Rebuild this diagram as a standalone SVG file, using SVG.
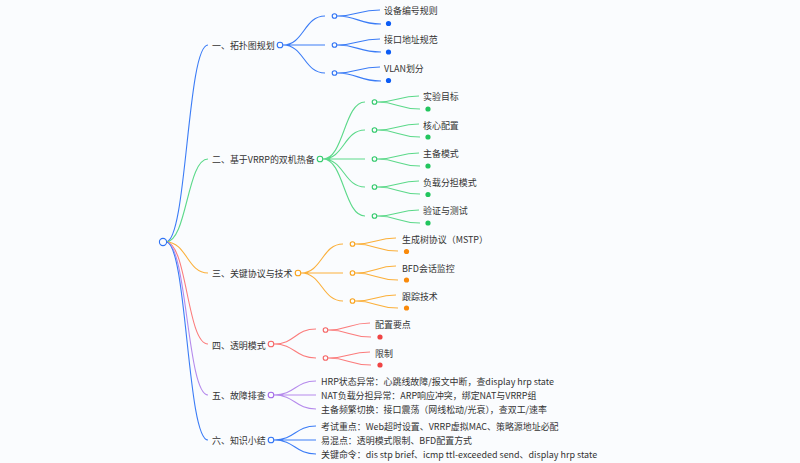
<svg xmlns="http://www.w3.org/2000/svg" width="800" height="463" viewBox="0 0 800 463">
<style>
text{font-family:"Noto Sans CJK SC","Noto Sans",sans-serif;font-size:8.95px;fill:#333;dominant-baseline:central}
path{fill:none;stroke-width:1.1}
circle{fill:#fafcfe;stroke-width:1.1}
.a path{stroke:#3b7cf6}.a circle{stroke:#2f73f5}.a .d{fill:#0b5cf5;stroke:none}
.b path{stroke:#5cd98a}.b circle{stroke:#30c96a}.b .d{fill:#22c55e;stroke:none}
.c path{stroke:#fbb03b}.c circle{stroke:#f9a21a}.c .d{fill:#f98a0b;stroke:none}
.e path{stroke:#fb7c7c}.e circle{stroke:#f56565}.e .d{fill:#ef4444;stroke:none}
.f path{stroke:#b58aec}.f circle{stroke:#a368e8}
</style>
<rect width="800" height="463" fill="#fafcfe"/>
<g id="connectors">
<g class="a"><path d="M166 242C187 242 187 45 208 45"/><path d="M283 45C304 45 304 16 325 16M283 45H325M283 45C304 45 304 73 325 73"/><path d="M337 16C358 16 358 10 380 10M337 16C358 16 358 24 381 24M337 45C358 45 358 39 380 39M337 45C358 45 358 52 381 52M337 73C358 73 358 67 380 67M337 73C358 73 358 81 381 81"/></g>
<g class="b"><path d="M166 242C187 242 187 159 208 159"/><path d="M323 159C344 159 344 102 365 102M323 159C344 159 344 130 365 130M323 159H365M323 159C344 159 344 187 365 187M323 159C344 159 344 216 365 216"/><path d="M377 102C398 102 398 96 419 96M377 102C398 102 398 109 420 109M377 130C398 130 398 124 419 124M377 130C398 130 398 137 420 137M377 159C398 159 398 153 419 153M377 159C398 159 398 166 420 166M377 187C398 187 398 181 419 181M377 187C398 187 398 194 420 194M377 216C398 216 398 210 419 210M377 216C398 216 398 223 420 223"/></g>
<g class="c"><path d="M166 242C187 242 187 273 208 273"/><path d="M301 273C322 273 322 244 343 244M301 273H343M301 273C322 273 322 301 343 301"/><path d="M355 244C376 244 376 238 396 238M355 244C376 244 376 251 398 251M355 273C376 273 376 266 396 266M355 273C376 273 376 280 398 280M355 301C376 301 376 295 396 295M355 301C376 301 376 308 398 308"/></g>
<g class="e"><path d="M166 242C187 242 187 344 208 344"/><path d="M274 344C295 344 295 329 316 329M274 344C295 344 295 358 316 358"/><path d="M328 330C349 330 349 323 370 323M328 330C349 330 349 337 371 337M328 358C349 358 349 352 370 352M328 358C349 358 349 365 371 365"/></g>
<g class="f"><path d="M166 242C187 242 187 395 208 395"/><path d="M274 395C295 395 295 381 316 381M274 395H316M274 395C295 395 295 409 316 409"/></g>
<g class="a"><path d="M166 242C187 242 187 440 208 440"/><path d="M274 440C295 440 295 426 316 426M274 440H316M274 440C295 440 295 454 316 454"/></g>
</g>
<g id="root" class="a"><circle cx="163" cy="242" r="3.600"/></g>
<g id="n1" class="a"><text x="212" y="45.500">一、拓扑图规划</text><circle cx="280" cy="45" r="2.800"/></g>
<g id="n1-1" class="a"><circle cx="334.500" cy="16" r="2.300"/><text x="384" y="10.500">设备编号规则</text><circle class="d" cx="388.500" cy="23.500" r="2.600"/></g>
<g id="n1-2" class="a"><circle cx="334.500" cy="45" r="2.300"/><text x="384" y="39.500">接口地址规范</text><circle class="d" cx="388.500" cy="52" r="2.600"/></g>
<g id="n1-3" class="a"><circle cx="334.500" cy="73" r="2.300"/><text x="384" y="68">VLAN划分</text><circle class="d" cx="388.500" cy="80.500" r="2.600"/></g>
<g id="n2" class="b"><text x="212" y="159.500">二、基于VRRP的双机热备</text><circle cx="320" cy="159" r="2.800"/></g>
<g id="n2-1" class="b"><circle cx="374.500" cy="102" r="2.300"/><text x="423" y="96.500">实验目标</text><circle class="d" cx="428" cy="109" r="2.600"/></g>
<g id="n2-2" class="b"><circle cx="374.500" cy="130" r="2.300"/><text x="423" y="125">核心配置</text><circle class="d" cx="428" cy="137" r="2.600"/></g>
<g id="n2-3" class="b"><circle cx="374.500" cy="159" r="2.300"/><text x="423" y="153.500">主备模式</text><circle class="d" cx="428" cy="166" r="2.600"/></g>
<g id="n2-4" class="b"><circle cx="374.500" cy="187" r="2.300"/><text x="423" y="182">负载分担模式</text><circle class="d" cx="428" cy="194.500" r="2.600"/></g>
<g id="n2-5" class="b"><circle cx="374.500" cy="216" r="2.300"/><text x="423" y="210.500">验证与测试</text><circle class="d" cx="428" cy="223" r="2.600"/></g>
<g id="n3" class="c"><text x="212" y="273.500">三、关键协议与技术</text><circle cx="298" cy="273" r="2.800"/></g>
<g id="n3-1" class="c"><circle cx="352.500" cy="244" r="2.300"/><text x="402" y="239.500">生成树协议（MSTP）</text><circle class="d" cx="406.500" cy="251.500" r="2.600"/></g>
<g id="n3-2" class="c"><circle cx="352.500" cy="273" r="2.300"/><text x="402" y="268">BFD会话监控</text><circle class="d" cx="406.500" cy="280" r="2.600"/></g>
<g id="n3-3" class="c"><circle cx="352.500" cy="301" r="2.300"/><text x="402" y="296">跟踪技术</text><circle class="d" cx="406.500" cy="308" r="2.600"/></g>
<g id="n4" class="e"><text x="212" y="345">四、透明模式</text><circle cx="271" cy="344" r="2.800"/></g>
<g id="n4-1" class="e"><circle cx="325.500" cy="330" r="2.300"/><text x="375" y="324.500">配置要点</text><circle class="d" cx="380" cy="337" r="2.600"/></g>
<g id="n4-2" class="e"><circle cx="325.500" cy="358" r="2.300"/><text x="375" y="353">限制</text><circle class="d" cx="380" cy="365" r="2.600"/></g>
<g id="n5" class="f"><text x="212" y="395.500">五、故障排查</text><circle cx="271" cy="395" r="2.800"/></g>
<g id="n5-1"><text x="321" y="381.500">HRP状态异常：心跳线故障/报文中断，查display hrp state</text></g>
<g id="n5-2"><text x="321" y="395.500">NAT负载分担异常：ARP响应冲突，绑定NAT与VRRP组</text></g>
<g id="n5-3"><text x="321" y="409.500">主备频繁切换：接口震荡（网线松动/光衰），查双工/速率</text></g>
<g id="n6" class="a"><text x="212" y="440.500">六、知识小结</text><circle cx="271" cy="440" r="2.800"/></g>
<g id="n6-1"><text x="321" y="426">考试重点：Web超时设置、VRRP虚拟MAC、策略源地址必配</text></g>
<g id="n6-2"><text x="321" y="440">易混点：透明模式限制、BFD配置方式</text></g>
<g id="n6-3"><text x="321" y="454.500">关键命令：dis stp brief、icmp ttl-exceeded send、display hrp state</text></g>
</svg>
